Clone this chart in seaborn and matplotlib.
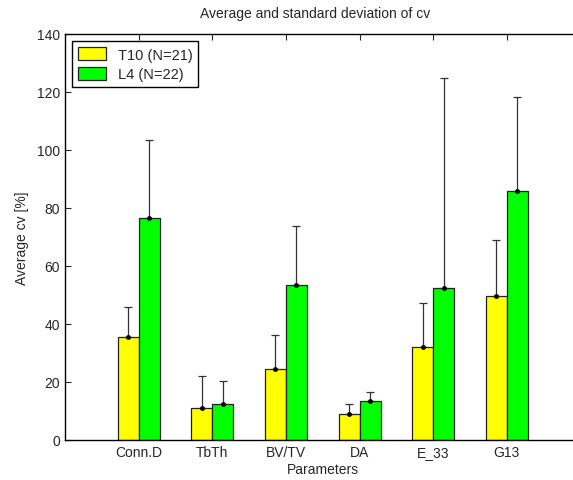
import numpy as np
import pandas as pd
import matplotlib
matplotlib.use("Agg")
import matplotlib.pyplot as plt
import seaborn as sns

# values
params = ["Conn.D", "TbTh", "BV/TV", "DA", "E_33", "G13"]
groups = ["T10 (N=21)", "L4 (N=22)"]
t10_mean = [35.6, 11.0, 24.5, 9.1, 31.9, 49.6]
t10_std = [10.3, 11.1, 11.6, 3.2, 15.5, 19.2]
l4_mean = [76.5, 12.3, 53.6, 13.5, 52.4, 86.0]
l4_std = [27.1, 8.2, 20.1, 2.9, 72.4, 32.2]

df = pd.DataFrame({
    "Parameters": params * 2,
    "group": [groups[0]] * len(params) + [groups[1]] * len(params),
    "mean": t10_mean + l4_mean,
    "std": t10_std + l4_std,
})

sns.set_style("white")
plt.rcParams["font.family"] = ["Liberation Sans", "DejaVu Sans"]

fig = plt.figure(figsize=(5.73, 4.81), dpi=100)
# axes runs past the right edge, like the cropped original
ax = fig.add_axes([65 / 573, 40 / 481, 515.5 / 573, 406 / 481])

sns.barplot(data=df, x="Parameters", y="mean", hue="group", order=params,
            hue_order=groups, palette=["#ffff00", "#00ff00"], width=0.57,
            errorbar=None, edgecolor="#222222", linewidth=0.9, saturation=1,
            ax=ax)

# upper error bars only, placed on the bars seaborn drew
for cont, g in zip(ax.containers, groups):
    sub = df[df["group"] == g].set_index("Parameters").loc[params]
    xs = [p.get_x() + p.get_width() / 2 for p in cont.patches]
    ax.errorbar(xs, sub["mean"], yerr=[np.zeros(len(sub)), sub["std"]],
                fmt="o", color="black", ms=2.5, ecolor="#333333",
                elinewidth=0.9, capsize=3, capthick=0.9)

ax.set_xlim(-1, 6)
ax.set_ylim(0, 140)
ax.set_yticks(np.arange(0, 141, 20))
ax.tick_params(axis="both", direction="in", length=4, labelsize=10,
               top=True, bottom=True, left=True, right=False, width=0.8)
for s in ["left", "bottom", "top"]:
    ax.spines[s].set_color("black")
    ax.spines[s].set_linewidth(1.0)
ax.spines["right"].set_visible(False)

ax.set_xlabel("Parameters", fontsize=10, labelpad=2)
ax.set_ylabel("Average cv [%]", fontsize=10, labelpad=6)
fig.suptitle("Average and standard deviation of cv", x=315 / 573, y=0.985,
             fontsize=10, va="top")

leg = ax.legend(loc="upper left", fontsize=10.5, fancybox=False,
                edgecolor="black", framealpha=1, handlelength=1.9,
                handleheight=1.0, borderaxespad=0.5, labelspacing=0.35,
                borderpad=0.4)
leg.get_frame().set_linewidth(1.0)

fig.savefig("out.png", dpi=100)
